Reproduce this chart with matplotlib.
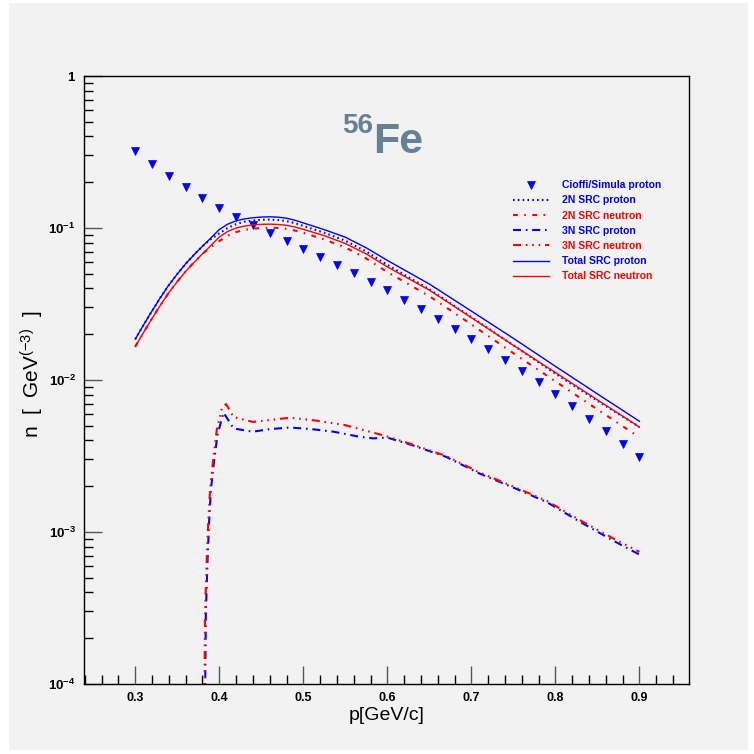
import matplotlib
matplotlib.use("Agg")
import matplotlib.pyplot as plt
from matplotlib.patches import Rectangle
from matplotlib.ticker import MultipleLocator, FixedLocator, LogLocator, NullFormatter

plt.rcParams['font.family'] = ['Liberation Sans', 'DejaVu Sans']
plt.rcParams['mathtext.fontset'] = 'custom'
plt.rcParams['mathtext.rm'] = 'Liberation Sans'
plt.rcParams['mathtext.bf'] = 'Liberation Sans:bold'
plt.rcParams['mathtext.default'] = 'bf'

# Cioffi/Simula proton momentum distribution (markers)
p_cs = [0.30, 0.32, 0.34, 0.36, 0.38, 0.40, 0.42, 0.44, 0.46, 0.48, 0.50,
        0.52, 0.54, 0.56, 0.58, 0.60, 0.62, 0.64, 0.66, 0.68, 0.70,
        0.72, 0.74, 0.76, 0.78, 0.80, 0.82, 0.84, 0.86, 0.88, 0.90]
n_cs = [0.323, 0.265, 0.219, 0.185, 0.157, 0.136, 0.119, 0.104, 0.0923, 0.0821, 0.0731,
        0.0645, 0.0571, 0.0504, 0.0443, 0.0389, 0.0338, 0.0293, 0.0253, 0.0217, 0.0187,
        0.0159, 0.0135, 0.0114, 0.00966, 0.00805, 0.00671, 0.00556, 0.00459, 0.00377, 0.00310]

# 2N and total SRC curves
p_src = [0.30, 0.31, 0.32, 0.33, 0.34, 0.35, 0.36, 0.37, 0.38, 0.39, 0.40,
         0.41, 0.42, 0.43, 0.44, 0.45, 0.46, 0.47, 0.48, 0.49, 0.50,
         0.525, 0.55, 0.575, 0.60, 0.65, 0.70, 0.75, 0.80, 0.85, 0.90]
n_2n_p = [0.0186, 0.0231, 0.0285, 0.0349, 0.0422, 0.0498, 0.0582, 0.0667, 0.0759, 0.0845, 0.0920,
          0.1000, 0.1060, 0.1100, 0.1120, 0.1132, 0.1135, 0.1128, 0.1110, 0.1075, 0.1032,
          0.0930, 0.0825, 0.0700, 0.0572, 0.0395, 0.0259, 0.0169, 0.0110, 0.0073, 0.0049]
n_2n_n = [0.0166, 0.0206, 0.0254, 0.0311, 0.0376, 0.0444, 0.0519, 0.0595, 0.0677, 0.0750, 0.0820,
          0.0888, 0.0940, 0.0972, 0.0990, 0.1000, 0.1005, 0.1000, 0.0988, 0.0962, 0.0930,
          0.0840, 0.0745, 0.0630, 0.0513, 0.0356, 0.0232, 0.0150, 0.0098, 0.0064, 0.0042]
n_tot_p = [0.0186, 0.0231, 0.0285, 0.0349, 0.0422, 0.0498, 0.0582, 0.0667, 0.0759, 0.0860, 0.0977,
           0.1060, 0.1115, 0.1148, 0.1168, 0.1180, 0.1185, 0.1178, 0.1160, 0.1125, 0.1080,
           0.0975, 0.0870, 0.0740, 0.0612, 0.0428, 0.0284, 0.0188, 0.0123, 0.0081, 0.00535]
n_tot_n = [0.0166, 0.0206, 0.0254, 0.0311, 0.0376, 0.0444, 0.0519, 0.0595, 0.0677, 0.0767, 0.0872,
           0.0950, 0.1000, 0.1030, 0.1047, 0.1057, 0.1060, 0.1055, 0.1042, 0.1015, 0.0980,
           0.0890, 0.0790, 0.0675, 0.0555, 0.0390, 0.0257, 0.0169, 0.0112, 0.0074, 0.0049]

# 3N SRC curves (zero below p = 0.38)
p_3n_p = [0.380, 0.384, 0.386, 0.388, 0.390, 0.394, 0.398, 0.405, 0.417, 0.440, 0.460, 0.484, 0.510,
          0.536, 0.565, 0.583, 0.600, 0.630, 0.670, 0.710, 0.750, 0.790, 0.830, 0.870, 0.900]
n_3n_p = [1e-6, 2.9e-4, 6.5e-4, 1.2e-3, 1.9e-3, 3.0e-3, 4.4e-3, 6.1e-3, 4.8e-3, 4.57e-3, 4.75e-3, 4.87e-3, 4.75e-3,
          4.57e-3, 4.25e-3, 4.13e-3, 4.18e-3, 3.72e-3, 3.12e-3, 2.42e-3, 1.96e-3, 1.57e-3, 1.16e-3, 8.7e-4, 7.1e-4]
p_3n_n = [0.380, 0.383, 0.385, 0.387, 0.389, 0.393, 0.397, 0.403, 0.408, 0.417, 0.440, 0.460, 0.484,
          0.516, 0.548, 0.579, 0.600, 0.630, 0.670, 0.710, 0.750, 0.790, 0.830, 0.870, 0.900]
n_3n_n = [1e-6, 2.9e-4, 6.5e-4, 1.2e-3, 1.9e-3, 3.1e-3, 4.7e-3, 6.5e-3, 6.95e-3, 5.7e-3, 5.3e-3, 5.45e-3, 5.65e-3,
          5.4e-3, 5.07e-3, 4.57e-3, 4.25e-3, 3.76e-3, 3.16e-3, 2.46e-3, 1.99e-3, 1.6e-3, 1.19e-3, 9.0e-4, 7.4e-4]

y_ticks = [1e-4, 1e-3, 1e-2, 1e-1, 1]
y_ticklabels = [r'$10^{-4}$', r'$10^{-3}$', r'$10^{-2}$', r'$10^{-1}$', r'$1$']
x_ticks = [0.3, 0.4, 0.5, 0.6, 0.7, 0.8, 0.9]
x_ticklabels = ['0.3', '0.4', '0.5', '0.6', '0.7', '0.8', '0.9']

# ROOT-like line styles (in units of line width)
ls_dot = (0, (0.77, 1.54))
ls_dashdot = (0, (2.3, 3.1, 0.77, 3.1))
ls_dashdot2 = (0, (3.85, 2.3, 0.77, 2.3))
ls_dash3dot = (0, (3.85, 2.3, 0.77, 2.3, 0.77, 2.3, 0.77, 2.3))

W = 754
bg = '#f2f2f2'
fig = plt.figure(figsize=(7.54, 7.54), dpi=100, facecolor='white')
fig.patches.append(Rectangle((9 / W, 4 / W), 739 / W, 747 / W, transform=fig.transFigure,
                             facecolor=bg, edgecolor='none', zorder=-10))

ax = fig.add_axes([84 / W, 70 / W, 605 / W, 608 / W])
ax.set_facecolor(bg)

ax.plot(p_cs, n_cs, linestyle='none', marker='v', markersize=5.8, markeredgewidth=0.5,
        color='blue', label='Cioffi/Simula proton')
ax.plot(p_src, n_2n_p, color='blue', lw=1.5, linestyle=ls_dot, label='2N SRC proton')
ax.plot(p_src, n_2n_n, color='red', lw=1.5, linestyle=ls_dashdot, label='2N SRC neutron')
ax.plot(p_3n_p, n_3n_p, color='blue', lw=1.5, linestyle=ls_dashdot2, label='3N SRC proton')
ax.plot(p_3n_n, n_3n_n, color='red', lw=1.5, linestyle=ls_dash3dot, label='3N SRC neutron')
ax.plot(p_src, n_tot_p, color='blue', lw=1.0, label='Total SRC proton')
ax.plot(p_src, n_tot_n, color='red', lw=1.0, label='Total SRC neutron')

ax.set_yscale('log')
ax.set_xlim(0.239, 0.959)
ax.set_ylim(1e-4, 1)

ax.xaxis.set_major_locator(FixedLocator(x_ticks))
ax.set_xticklabels(x_ticklabels, fontsize=9, fontweight='bold')
ax.xaxis.set_minor_locator(MultipleLocator(0.02))
ax.yaxis.set_major_locator(FixedLocator(y_ticks))
ax.set_yticklabels(y_ticklabels, fontsize=9.5)
ax.yaxis.set_minor_locator(LogLocator(base=10, subs=range(2, 10)))
ax.yaxis.set_minor_formatter(NullFormatter())

ax.tick_params(which='major', direction='in', length=13, width=1.0, color='#555555', pad=6)
ax.tick_params(which='minor', direction='in', length=6.5, width=1.0, color='black')
ax.tick_params(top=False, right=False, which='both')
for sp in ax.spines.values():
    sp.set_linewidth(1.0)

ax.set_xlabel('p[GeV/c]', fontsize=14, labelpad=2)
ax.set_ylabel(r'n  [  GeV$^{\mathrm{(-3)}}$  ]', fontsize=15)
ax.yaxis.set_label_coords(-0.063, 0.51)

title_color = '#668096'
fig.text(342 / W, 1 - 133 / W, '56', fontsize=20, fontweight='bold', color=title_color,
         ha='left', va='baseline')
fig.text(373 / W, 1 - 153 / W, 'Fe', fontsize=31, fontweight='bold', color=title_color,
         ha='left', va='baseline')

leg = fig.legend(loc='upper left', bbox_to_anchor=(508 / W, 1 - 175 / W), frameon=False,
                 prop={'size': 7.5, 'weight': 'bold'}, labelcolor='linecolor',
                 handlelength=3.4, handletextpad=1.3, labelspacing=0.5, borderpad=0,
                 numpoints=1)

fig.savefig('out.png', dpi=100, facecolor=fig.get_facecolor())
